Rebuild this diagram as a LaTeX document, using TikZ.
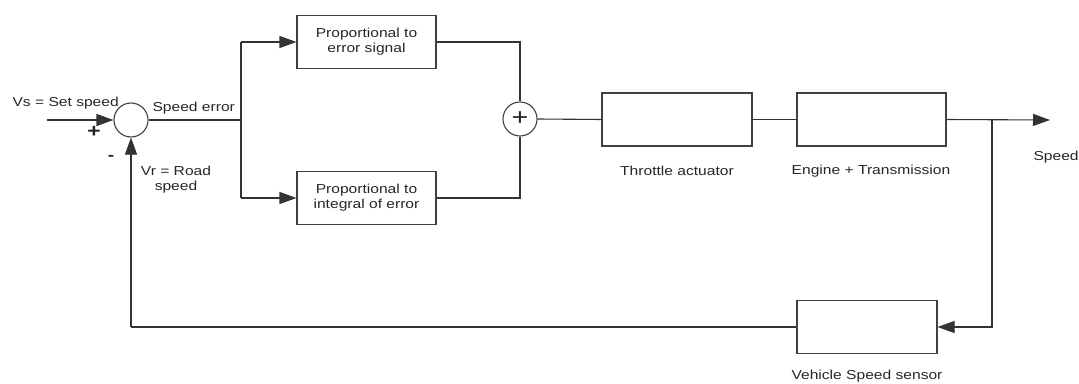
\documentclass[tikz,border=0pt]{standalone}
\usepackage{fontspec}
\setmainfont[FakeStretch=1.2]{Liberation Sans}
\usetikzlibrary{arrows.meta}
\begin{document}
\begin{tikzpicture}[x=1pt,y=-1pt,
  line width=1.1pt,
  every node/.style={font=\fontsize{13}{15}\selectfont, text=black!85},
  blk/.style={draw=black!75, rectangle, inner sep=0pt, align=center},
  sumc/.style={draw=black!75, circle, minimum size=34pt, inner sep=0pt},
  wire/.style={draw=black!80},
  arr/.style={wire, -{Triangle[length=17pt,width=12pt]}},
  lbl/.style={inner sep=0pt}]
\useasboundingbox (0,0) rectangle (1079,383);
% blocks
\node[sumc] (s1) at (131,120) {};
\node[sumc] (s2) at (520,119) {\fontsize{24}{24}\selectfont +};
\node[blk, minimum width=139pt, minimum height=53pt] (b1) at (366.5,42) {Proportional to\\error signal};
\node[blk, minimum width=139pt, minimum height=53pt] (b2) at (366.5,198) {Proportional to\\integral of error};
\node[blk, minimum width=150pt, minimum height=53pt] (thr) at (677,119.5) {};
\node[blk, minimum width=149pt, minimum height=53pt] (eng) at (871.5,119.5) {};
\node[blk, minimum width=140pt, minimum height=53pt] (sen) at (867,327) {};
% coordinates
\coordinate (in) at (47,120);
\coordinate (out) at (1050,120);
\coordinate (br) at (992,120);
\coordinate (sp) at (241,120);
\coordinate (spt) at (241,42);
\coordinate (spb) at (241,198);
\coordinate (fbr) at (992,327);
\coordinate (fbl) at (131,327);
% connectors
\draw[arr] (in) -- (s1.west);
\draw[wire] (s1.east) -- (sp);
\draw[wire] (spt) -- (spb);
\draw[arr] (spt) -- (b1.west);
\draw[arr] (spb) -- (b2.west);
\draw[wire] (b1.east) -| (s2.north);
\draw[wire] (b2.east) -| (s2.south);
\draw[wire] (s2.east) -- (thr.west);
\draw[wire] (thr.east) -- (eng.west);
\draw[arr] (eng.east) -- (out);
\draw[arr] (br) -- (fbr) -- (sen.east);
\draw[wire] (sen.west) -- (fbl);
\draw[arr] (fbl) -- (s1.south);
% labels
\node[lbl, anchor=west] (lvs) at (12,103) {Vs = Set speed};
\node[lbl] (lplus) at (94,132) {\fontsize{19}{19}\selectfont\bfseries +};
\node[lbl] (lminus) at (111,158) {\fontsize{16}{16}\selectfont\bfseries -};
\node[lbl, anchor=west] (lse) at (152,108) {Speed error};
\node[lbl, align=center] (lvr) at (176,180) {Vr = Road\\speed};
\node[lbl] (lthr) at (677,171) {Throttle actuator};
\node[lbl] (leng) at (871,171) {Engine + Transmission};
\node[lbl, anchor=west] (lsp) at (1033,157) {Speed};
\node[lbl] (lsen) at (867,376) {Vehicle Speed sensor};
\end{tikzpicture}
\end{document}
